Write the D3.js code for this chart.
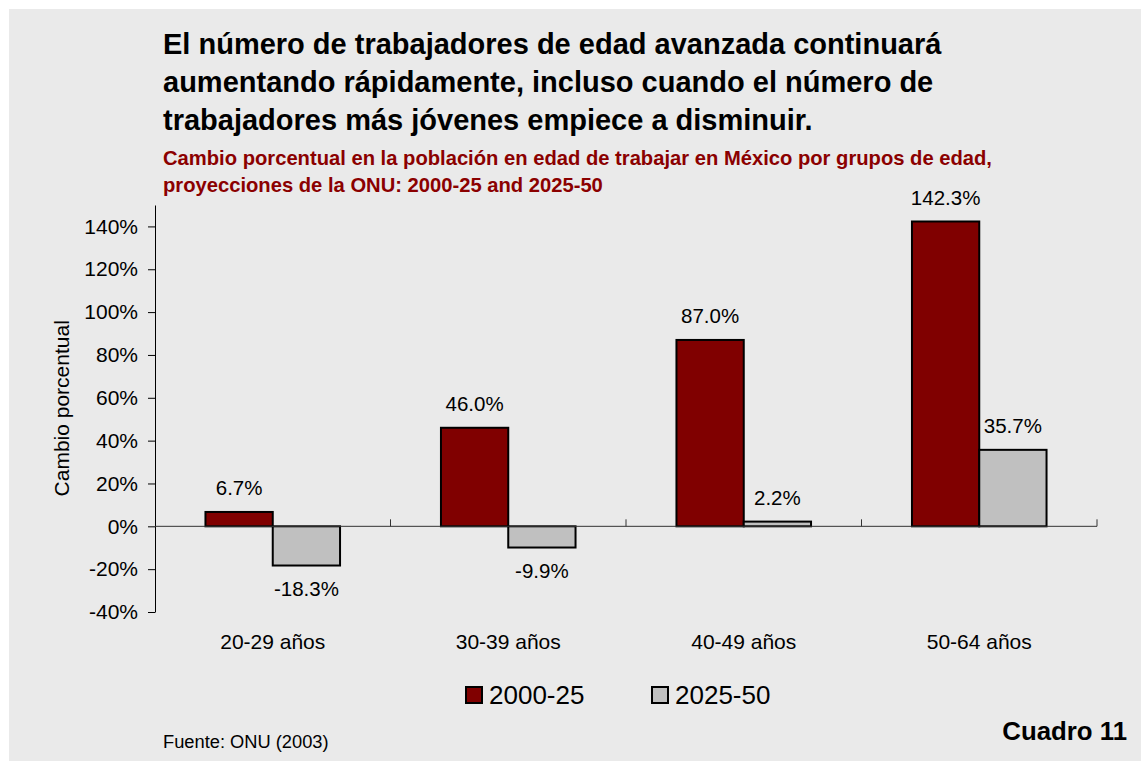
<!DOCTYPE html>
<html>
<head>
<meta charset="utf-8">
<script src="https://cdn.jsdelivr.net/npm/d3@7"></script>
<style>
  html, body { margin: 0; padding: 0; background: #fff; }
  svg { display: block; font-family: "Liberation Sans", Arial, sans-serif; }
</style>
</head>
<body>
<div id="chart"></div>
<script>
let categories = ['20-29 años', '30-39 años', '40-49 años', '50-64 años'];
let series = ['2000-25', '2025-50'];
let values2000 = [6.7, 46.0, 87.0, 142.3];
let values2025 = [-18.3, -9.9, 2.2, 35.7];
let yTicks = [-40, -20, 0, 20, 40, 60, 80, 100, 120, 140];

let titleLines = [
  'El número de trabajadores de edad avanzada continuará',
  'aumentando rápidamente, incluso cuando el número de',
  'trabajadores más jóvenes empiece a disminuir.'
];
let subtitleLines = [
  'Cambio porcentual en la población en edad de trabajar en México por grupos de edad,',
  'proyecciones de la ONU: 2000-25 and 2025-50'
];

let svgWidth = 1141;
let svgHeight = 761;

let margin = { top: 205, right: 44, bottom: 149, left: 155 };
let width = svgWidth - margin.left - margin.right;
let height = svgHeight - margin.top - margin.bottom;

let colors = { '2000-25': '#800000', '2025-50': '#c0c0c0' };

// hyphen instead of unicode minus, like the original
let fmt = v => d3.format('.1f')(v).replace('\u2212', '-') + '%';

let chartData = categories.map((c, i) => ({
  cat: c,
  vals: [{ key: series[0], v: values2000[i] }, { key: series[1], v: values2025[i] }]
}));

let svg = d3.select('#chart')
  .append('svg')
  .attr('width', svgWidth)
  .attr('height', svgHeight);

// panel background
svg.append('rect')
  .attr('x', 9).attr('y', 9)
  .attr('width', svgWidth - 9).attr('height', svgHeight - 9)
  .attr('fill', '#eaeaea');

// titles
svg.append('g').selectAll('text')
  .data(titleLines)
  .enter()
  .append('text')
  .attr('x', 163)
  .attr('y', (d, i) => 54 + i * 38)
  .attr('font-size', 29)
  .attr('font-weight', 700)
  .attr('fill', '#000')
  .text(d => d);

svg.append('g').selectAll('text')
  .data(subtitleLines)
  .enter()
  .append('text')
  .attr('x', 163)
  .attr('y', (d, i) => 165 + i * 26.5)
  .attr('font-size', 20.2)
  .attr('font-weight', 700)
  .attr('fill', '#8b0000')
  .text(d => d);

let chartGroup = svg.append('g')
  .attr('transform', `translate(${margin.left}, ${margin.top})`);

let yScale = d3.scaleLinear()
  .domain([-40, 150])
  .range([height, 0]);

let xScale = d3.scaleBand()
  .domain(categories)
  .range([0, width])
  .paddingInner(0)
  .paddingOuter(0);

let xSub = d3.scaleBand()
  .domain(series)
  .range([0, xScale.bandwidth()])
  .paddingInner(0)
  .paddingOuter(0.75);

// y axis
let leftAxis = d3.axisLeft(yScale)
  .tickValues(yTicks)
  .tickSizeInner(7)
  .tickSizeOuter(0)
  .tickPadding(10)
  .tickFormat(d => d + '%');

let yAxis = chartGroup.append('g').call(leftAxis);
yAxis.select('.domain').attr('stroke', '#000');
yAxis.selectAll('.tick line').attr('stroke', '#000');
yAxis.selectAll('text')
  .attr('font-size', 21)
  .attr('font-family', '"Liberation Sans", Arial, sans-serif')
  .attr('fill', '#000');

// y axis title
chartGroup.append('text')
  .attr('transform', 'rotate(-90)')
  .attr('x', -(yScale(0) - (526 - 408)))
  .attr('y', 62 - margin.left)
  .attr('dy', '0.35em')
  .attr('text-anchor', 'middle')
  .attr('font-size', 21)
  .attr('fill', '#000')
  .text('Cambio porcentual');

// bars
let groups = chartGroup.selectAll('.cat')
  .data(chartData)
  .enter()
  .append('g')
  .attr('class', 'cat')
  .attr('transform', d => `translate(${xScale(d.cat)}, 0)`);

groups.selectAll('rect')
  .data(d => d.vals)
  .enter()
  .append('rect')
  .attr('x', d => xSub(d.key))
  .attr('y', d => yScale(Math.max(0, d.v)))
  .attr('width', xSub.bandwidth())
  .attr('height', d => Math.abs(yScale(d.v) - yScale(0)))
  .attr('fill', d => colors[d.key])
  .attr('stroke', '#000')
  .attr('stroke-width', 2);

// value labels
groups.selectAll('.val')
  .data(d => d.vals)
  .enter()
  .append('text')
  .attr('class', 'val')
  .attr('x', d => xSub(d.key) + xSub.bandwidth() / 2)
  .attr('y', d => d.v >= 0 ? yScale(d.v) - 17 : yScale(d.v) + 30)
  .attr('text-anchor', 'middle')
  .attr('font-size', 20.5)
  .attr('fill', '#000')
  .text(d => fmt(d.v));

// x axis line and category separators
chartGroup.append('line')
  .attr('x1', 0).attr('x2', width)
  .attr('y1', yScale(0)).attr('y2', yScale(0))
  .attr('stroke', '#333')
  .attr('stroke-width', 1);

let boundaries = categories.map(c => xScale(c)).concat([xScale.range()[1]]).slice(1);
chartGroup.selectAll('.sep')
  .data(boundaries)
  .enter()
  .append('line')
  .attr('class', 'sep')
  .attr('x1', d => d).attr('x2', d => d)
  .attr('y1', yScale(0)).attr('y2', yScale(0) - 7)
  .attr('stroke', '#333');

// category labels
chartGroup.selectAll('.catlabel')
  .data(categories)
  .enter()
  .append('text')
  .attr('class', 'catlabel')
  .attr('x', d => xScale(d) + xScale.bandwidth() / 2)
  .attr('y', yScale(0) + 123)
  .attr('text-anchor', 'middle')
  .attr('font-size', 21)
  .attr('fill', '#000')
  .text(d => d);

// legend
let legendX = [466, 652];
let legend = svg.selectAll('.legend')
  .data(series)
  .enter()
  .append('g')
  .attr('class', 'legend')
  .attr('transform', (d, i) => `translate(${legendX[i]}, 687)`);

legend.append('rect')
  .attr('width', 16).attr('height', 16)
  .attr('fill', d => colors[d])
  .attr('stroke', '#000')
  .attr('stroke-width', 2);

legend.append('text')
  .attr('x', 23)
  .attr('y', 17)
  .attr('font-size', 26)
  .attr('fill', '#000')
  .text(d => d);

// footer
svg.append('text')
  .attr('x', 163)
  .attr('y', 748)
  .attr('font-size', 18.3)
  .attr('fill', '#000')
  .text('Fuente: ONU (2003)');

svg.append('text')
  .attr('x', 1127)
  .attr('y', 740)
  .attr('text-anchor', 'end')
  .attr('font-size', 25.8)
  .attr('font-weight', 700)
  .attr('fill', '#000')
  .text('Cuadro 11');
</script>
</body>
</html>
